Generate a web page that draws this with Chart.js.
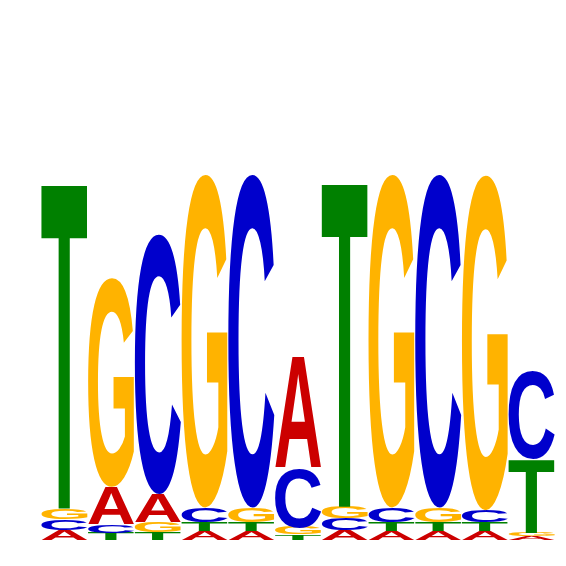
<!DOCTYPE html>
<html>
<head>
<meta charset="utf-8">
<script src="https://cdn.jsdelivr.net/npm/chart.js@4"></script>
<style>
  html, body { margin: 0; padding: 0; background: #fff; }
  canvas { display: block; }
</style>
</head>
<body>
<canvas id="logo" width="566" height="566"></canvas>
<script>
// positions of the motif, and letter heights (bits)
const positions = ["1", "2", "3", "4", "5", "6", "7", "8", "9", "10", "11"];
const letters = ["A", "C", "G", "T"];
const heightA = [0.055, 0.21, 0.155, 0.05, 0.05, 0.615, 0.055, 0.05, 0.05, 0.05, 0.02];
const heightC = [0.06, 0.045, 1.445, 0.08, 1.852, 0.33, 0.065, 0.08, 1.852, 0.065, 0.49];
const heightG = [0.06, 1.162, 0.055, 1.852, 0.08, 0.04, 0.065, 1.852, 0.08, 1.863, 0.02];
const heightT = [1.81, 0.04, 0.045, 0.05, 0.05, 0.03, 1.805, 0.05, 0.05, 0.05, 0.41];

const colors = { A: "#cc0000", C: "#0000cc", G: "#ffb300", T: "#008000" };
const heights = { A: heightA, C: heightC, G: heightG, T: heightT };

// smallest letter at the bottom of each column
const order = positions.map((_, i) =>
  letters.slice().sort((a, b) => heights[a][i] - heights[b][i])
);

const datasets = [0, 1, 2, 3].map(r => ({
  data: order.map((o, i) => heights[o[r]][i]),
  letters: order.map(o => o[r]),
  backgroundColor: "rgba(0,0,0,0)",
  borderWidth: 0,
  barPercentage: 0.985,
  categoryPercentage: 1
}));

const glyphs = {
  id: "glyphs",
  afterDatasetsDraw(chart) {
    const c = chart.ctx;
    c.save();
    c.font = 'bold 200px "Liberation Sans", Arial, sans-serif';
    c.textAlign = "left";
    c.textBaseline = "alphabetic";
    chart.data.datasets.forEach((ds, d) => {
      chart.getDatasetMeta(d).data.forEach((bar, i) => {
        const { x, y, base, width } = bar.getProps(["x", "y", "base", "width"], true);
        const h = base - y;
        if (h <= 0.3) return;
        const ch = ds.letters[i];
        const m = c.measureText(ch);
        const gw = m.actualBoundingBoxLeft + m.actualBoundingBoxRight;
        const gh = m.actualBoundingBoxAscent + m.actualBoundingBoxDescent;
        c.save();
        c.translate(x - width / 2, y);
        c.scale(width / gw, h / gh);
        c.fillStyle = colors[ch];
        c.fillText(ch, m.actualBoundingBoxLeft, m.actualBoundingBoxAscent);
        c.restore();
      });
    });
    c.restore();
  }
};

new Chart(document.getElementById("logo"), {
  type: "bar",
  data: { labels: positions, datasets },
  options: {
    responsive: false,
    animation: false,
    layout: { padding: { left: 41, right: 11, top: 90, bottom: 26 } },
    plugins: { legend: { display: false }, tooltip: { enabled: false } },
    scales: {
      x: { display: false, stacked: true },
      y: { display: false, stacked: true, min: 0, max: 2.5 }
    }
  },
  plugins: [glyphs]
});
</script>
</body>
</html>
